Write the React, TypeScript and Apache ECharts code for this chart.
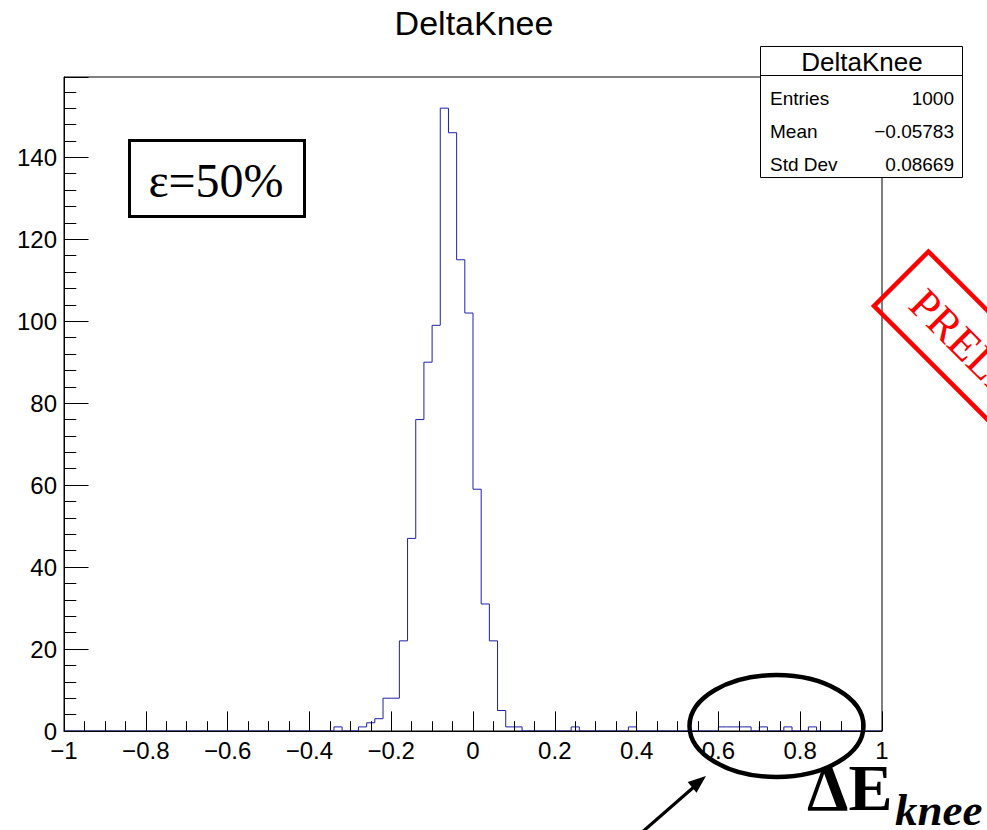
import React, { useEffect, useRef } from "react";
import * as echarts from "echarts";

// ---- data ----
const histTitle = "DeltaKnee";
const xMin = -1;
const xMax = 1;
const binWidth = 0.02;
// 100 bins from -1 to 1
const binCounts = [
  0, 0, 0, 0, 0, 0, 0, 0, 0, 0,
  0, 0, 0, 0, 0, 0, 0, 0, 0, 0,
  0, 0, 0, 0, 0, 0, 0, 0, 0, 0,
  0, 0, 0, 1, 0, 0, 1, 2, 3, 8,
  8, 22, 47, 76, 90, 99, 152, 146, 115, 102,
  59, 31, 22, 5, 1, 1, 0, 0, 0, 0,
  0, 0, 1, 0, 0, 0, 0, 0, 0, 1,
  0, 0, 0, 0, 0, 0, 0, 0, 0, 0,
  1, 1, 1, 1, 0, 1, 0, 0, 1, 0,
  0, 1, 0, 0, 0, 0, 0, 0, 0, 0,
];
const xTickStep = 0.2;
const yTickStep = 20;
const yMax = 159.6;
const statsTitle = "DeltaKnee";
const statsLabels = ["Entries", "Mean", "Std Dev"];
const statsValues = ["1000", "\u22120.05783", "0.08669"];
const effLabel = "\u03b5=50%";
const stampText = "PRELIMINARY";
const annotMain = "\u0394E";
const annotSub = "knee";

const SANS = "'Liberation Sans', Arial, Helvetica, sans-serif";
const SERIF = "'Liberation Serif', 'Times New Roman', serif";

function txt(o: any) {
  const s = o.style;
  if (s.textAlign) s.align = s.textAlign;
  if (s.textVerticalAlign) s.verticalAlign = s.textVerticalAlign;
  return o;
}

export default function App() {
  const ref = useRef<HTMLDivElement>(null);
  useEffect(() => {
    if (!ref.current) return;
    const chart = echarts.init(ref.current, undefined, { renderer: "svg" });

    const histData: number[][] = binCounts.map((c, i) => [xMin + i * binWidth, c]);
    histData.push([xMax, binCounts[binCounts.length - 1]]);

    const statRowsY = [98, 131, 164];
    const statsEls: any[] = [];
    statsLabels.forEach((l, i) => {
      statsEls.push(
        txt({
          type: "text",
          z: 101,
          style: {
            text: l, x: 770, y: statRowsY[i], fill: "#000",
            font: `19px ${SANS}`, textAlign: "left", textVerticalAlign: "middle",
          },
        })
      );
      statsEls.push(
        txt({
          type: "text",
          z: 101,
          style: {
            text: statsValues[i], x: 954, y: statRowsY[i], fill: "#000",
            font: `19px ${SANS}`, textAlign: "right", textVerticalAlign: "middle",
          },
        })
      );
    });

    const option: any = {
      animation: false,
      backgroundColor: "#fff",
      grid: {
        left: 64, top: 77, width: 818, height: 654,
        show: true, borderColor: "#000", borderWidth: 1, backgroundColor: "transparent",
      },
      xAxis: {
        type: "value",
        min: xMin, max: xMax, interval: xTickStep,
        z: 5,
        axisLine: { show: true, onZero: false, lineStyle: { color: "#000", width: 1 } },
        axisTick: { show: true, inside: true, length: 19.6, lineStyle: { color: "#000" } },
        minorTick: { show: true, splitNumber: 4, length: 9.8, lineStyle: { color: "#000" } },
        splitLine: { show: false },
        axisLabel: {
          color: "#000", fontSize: 24, fontFamily: SANS, margin: 7,
          formatter: (v: number) => String(Math.round(v * 10) / 10).replace("-", "\u2212"),
        },
      },
      yAxis: {
        type: "value",
        min: 0, max: yMax, interval: yTickStep,
        z: 5,
        axisLine: { show: true, onZero: false, lineStyle: { color: "#000", width: 1 } },
        axisTick: { show: true, inside: true, length: 24.5, lineStyle: { color: "#000" } },
        minorTick: { show: true, splitNumber: 5, length: 12.3, lineStyle: { color: "#000" } },
        splitLine: { show: false },
        axisLabel: {
          color: "#000", fontSize: 24, fontFamily: SANS, margin: 7,
          showMaxLabel: false,
          formatter: (v: number) => (v % yTickStep === 0 ? String(v) : ""),
        },
      },
      series: [
        {
          type: "line",
          data: histData,
          step: "end",
          showSymbol: false,
          symbol: "none",
          z: 2,
          lineStyle: { color: "#2020a8", width: 1 },
          clip: true,
        },
      ],
      graphic: [
        txt({
          type: "text", z: 100,
          style: {
            text: histTitle, x: 474, y: 23, fill: "#000",
            font: `34px ${SANS}`, textAlign: "center", textVerticalAlign: "middle",
          },
        }),
        {
          type: "rect", z: 100,
          shape: { x: 760.5, y: 46.5, width: 202, height: 131 },
          style: { fill: "#fff", stroke: "#000", lineWidth: 1 },
        },
        {
          type: "line", z: 101,
          shape: { x1: 760.5, y1: 75.5, x2: 962.5, y2: 75.5 },
          style: { stroke: "#000", lineWidth: 1 },
        },
        txt({
          type: "text", z: 101,
          style: {
            text: statsTitle, x: 862, y: 62, fill: "#000",
            font: `26px ${SANS}`, textAlign: "center", textVerticalAlign: "middle",
          },
        }),
        ...statsEls,
        {
          type: "rect", z: 100,
          shape: { x: 129.5, y: 140.5, width: 175, height: 76 },
          style: { fill: "#fff", stroke: "#000", lineWidth: 3 },
        },
        txt({
          type: "text", z: 101,
          style: {
            text: effLabel, x: 216, y: 180, fill: "#000",
            font: `48px ${SERIF}`, textAlign: "center", textVerticalAlign: "middle",
          },
        }),
        {
          type: "group", z: 100,
          x: 874, y: 306, rotation: -Math.PI / 4,
          children: [
            {
              type: "rect", z: 100,
              shape: { x: 0, y: -77, width: 520, height: 77 },
              style: { fill: "none", stroke: "#ff0000", lineWidth: 4.5 },
            },
            txt({
              type: "text", z: 101,
              style: {
                text: stampText, x: 24, y: -37, fill: "#ff0000",
                font: `44px ${SERIF}`, textAlign: "left", textVerticalAlign: "middle",
              },
            }),
          ],
        },
        {
          type: "ellipse", z: 110,
          shape: { cx: 776.5, cy: 726, rx: 87, ry: 51 },
          style: { fill: "none", stroke: "#000", lineWidth: 4.5 },
        },
        {
          type: "line", z: 110,
          shape: { x1: 640, y1: 834, x2: 695, y2: 786 },
          style: { stroke: "#000", lineWidth: 3.2 },
        },
        {
          type: "polygon", z: 110,
          shape: { points: [[706, 776], [696.5, 792.8], [687.7, 782.0]] },
          style: { fill: "#000" },
        },
        txt({
          type: "text", z: 110,
          style: {
            text: annotMain, x: 807, y: 787, fill: "#000",
            font: `bold 66px ${SERIF}`, textAlign: "left", textVerticalAlign: "middle",
          },
        }),
        txt({
          type: "text", z: 110,
          style: {
            text: annotSub, x: 895, y: 810, fill: "#000",
            font: `italic bold 45px ${SERIF}`, textAlign: "left", textVerticalAlign: "middle",
          },
        }),
      ],
    };
    chart.setOption(option);
    return () => chart.dispose();
  }, []);
  return (
    <div
      ref={ref}
      style={{ position: "absolute", left: 0, top: 0, width: 987, height: 830, background: "#fff" }}
    />
  );
}
